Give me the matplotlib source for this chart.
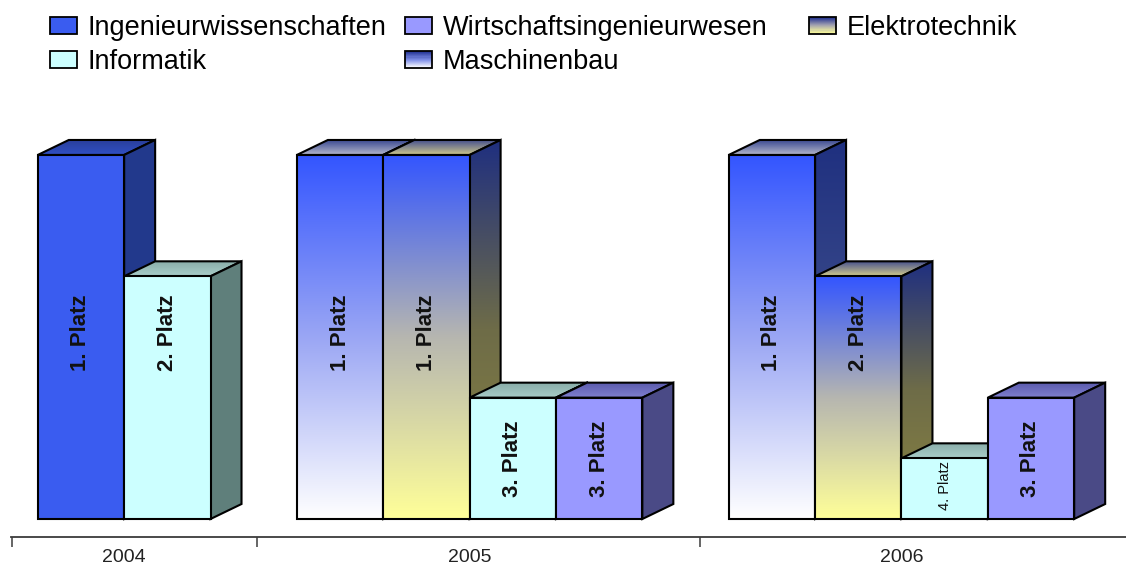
import numpy as np
import matplotlib
matplotlib.use("Agg")
import matplotlib.pyplot as plt
from matplotlib.patches import Polygon, Rectangle
from matplotlib.colors import LinearSegmentedColormap
from matplotlib.legend_handler import HandlerBase

plt.rcParams["font.family"] = ["Liberation Sans", "DejaVu Sans"]

# ---------------- Daten ----------------
years = ["2004", "2005", "2006"]
series_2004 = ["Ingenieurwissenschaften", "Informatik"]
series_2005 = ["Maschinenbau", "Elektrotechnik", "Informatik", "Wirtschaftsingenieurwesen"]
series_2006 = ["Maschinenbau", "Elektrotechnik", "Informatik", "Wirtschaftsingenieurwesen"]
values_2004 = [6, 4]
values_2005 = [6, 6, 2, 2]
values_2006 = [6, 4, 1, 2]
ranks_2004 = ["1. Platz", "2. Platz"]
ranks_2005 = ["1. Platz", "1. Platz", "3. Platz", "3. Platz"]
ranks_2006 = ["1. Platz", "2. Platz", "4. Platz", "3. Platz"]
# Legende spaltenweise, wie im Original
legend_cols = [["Ingenieurwissenschaften", "Informatik"],
               ["Wirtschaftsingenieurwesen", "Maschinenbau"],
               ["Elektrotechnik"]]
legend_x_px = [50, 405, 809]

# ---------------- Farben (oben -> unten) ----------------
STYLE = {
    "Ingenieurwissenschaften": dict(front=["#3a5cf0"], side=["#22398c"], top=["#2a3f9c", "#3050c4"],
                                    legend=["#3a5cf0"]),
    "Informatik": dict(front=["#ccffff"], side=["#5f7f7b"], top=["#8aaeaa", "#a8ccc8"],
                       legend=["#ccffff"]),
    "Wirtschaftsingenieurwesen": dict(front=["#9999ff"], side=["#4a4a86"], top=["#5c5cae", "#8080d0"],
                                      legend=["#9999ff"]),
    "Maschinenbau": dict(front=["#3355ff", "#9aa6f4", "#ffffff"], side=["#1f3080", "#3a4a8a", "#8a8aa8"],
                         top=["#3c4a92", "#b4b8cc"], legend=["#1f2f90", "#8090e8", "#ffffff"]),
    "Elektrotechnik": dict(front=["#3355ff", "#b6b6b0", "#ffff99"], side=["#1f2f80", "#6e6c48", "#8a8440"],
                           top=["#46508e", "#cfc98c"], legend=["#1f2f90", "#a0a0b0", "#ffff99"]),
}

DX, DY = 0.359, 0.247   # 3D-Tiefe (Datenkoordinaten)
EDGE = 1.5


def face(ax, verts, stops, z, y0, y1):
    poly = Polygon(verts, closed=True, facecolor=stops[0] if len(stops) == 1 else "none",
                   edgecolor="black", lw=EDGE, joinstyle="miter", zorder=z + 0.05)
    ax.add_patch(poly)
    if len(stops) > 1:
        cmap = LinearSegmentedColormap.from_list("g", stops)
        xs = [v[0] for v in verts]
        grad = np.linspace(0, 1, 256).reshape(-1, 1)
        im = ax.imshow(grad, cmap=cmap, extent=[min(xs), max(xs), y0, y1],
                       aspect="auto", origin="upper", zorder=z, interpolation="bilinear")
        im.set_clip_path(poly)


def bar3d(ax, x, h, name, z):
    st = STYLE[name]
    x1 = x + 1
    face(ax, [(x, h), (x1, h), (x1 + DX, h + DY), (x + DX, h + DY)], st["top"], z, h, h + DY)
    face(ax, [(x1, 0), (x1 + DX, DY), (x1 + DX, h + DY), (x1, h)], st["side"], z + 0.1, 0, h + DY)
    face(ax, [(x, 0), (x1, 0), (x1, h), (x, h)], st["front"], z + 0.2, 0, h)


class GradHandler(HandlerBase):
    def __init__(self, stops):
        super().__init__()
        self.stops = stops

    def create_artists(self, legend, orig_handle, xdescent, ydescent, width, height, fontsize, trans):
        cmap = LinearSegmentedColormap.from_list("g", self.stops if len(self.stops) > 1 else self.stops * 2)
        arts = []
        n = 16
        for i in range(n):
            y0 = -ydescent + height * (1 - (i + 1) / n)
            arts.append(Rectangle((-xdescent, y0), width, height / n, facecolor=cmap(i / (n - 1)),
                                  edgecolor="none", transform=trans))
        arts.append(Rectangle((-xdescent, -ydescent), width, height, facecolor="none",
                              edgecolor="black", lw=1.3, transform=trans))
        return arts


fig = plt.figure(figsize=(11.26, 5.69), dpi=100)
ax = fig.add_axes([11 / 1126, 32 / 569, 1 - 11 / 1126, 537 / 569])

groups = [(series_2004, values_2004, ranks_2004),
          (series_2005, values_2005, ranks_2005),
          (series_2006, values_2006, ranks_2006)]

slot = 0
centers = []
z = 2
for names, vals, ranks in groups:
    start = slot
    for name, v, r in zip(names, vals, ranks):
        bar3d(ax, slot, v, name, z)
        if v >= 4:
            ty, fs, fw = 3.07, 16, "bold"
        elif v >= 2:
            ty, fs, fw = v / 2, 16, "bold"
        else:
            ty, fs, fw = v / 2 + 0.05, 10.5, "normal"
        ax.text(slot + 0.5, ty, r, rotation=90, ha="center", va="center",
                fontsize=fs, fontweight=fw, color="#111111", zorder=z + 0.5)
        slot += 1
        z += 1
    centers.append((start + slot) / 2)
    slot += 1

ax.set_xlim(-0.31, 12.6)
ax.set_ylim(-0.2967, 8.554)
for s in ["top", "right", "left"]:
    ax.spines[s].set_visible(False)
ax.spines["bottom"].set_color("#3c3c3c")
ax.spines["bottom"].set_linewidth(1.3)
ax.set_yticks([])
ax.set_xticks([-0.3, 2.535, 7.67])
ax.set_xticklabels([])
ax.tick_params(axis="x", which="major", length=7.5, width=1.1, color="#3c3c3c", direction="out")
ax.set_xticks(centers, minor=True)
ax.set_xticklabels(years, minor=True, fontsize=14, color="#222222")
ax.tick_params(axis="x", which="minor", length=0, pad=9)

for names, lx in zip(legend_cols, legend_x_px):
    handles = [Rectangle((0, 0), 1, 1) for _ in names]
    hmap = {h: GradHandler(STYLE[n]["legend"]) for h, n in zip(handles, names)}
    fig.legend(handles, names, handler_map=hmap, loc="upper left",
               bbox_to_anchor=(lx / 1126, 1 - 15 / 569), frameon=False, fontsize=19.5,
               handlelength=1.0, handleheight=0.55, handletextpad=0.4,
               labelspacing=0.3, borderpad=0, borderaxespad=0)

fig.savefig("out.png", dpi=100)
